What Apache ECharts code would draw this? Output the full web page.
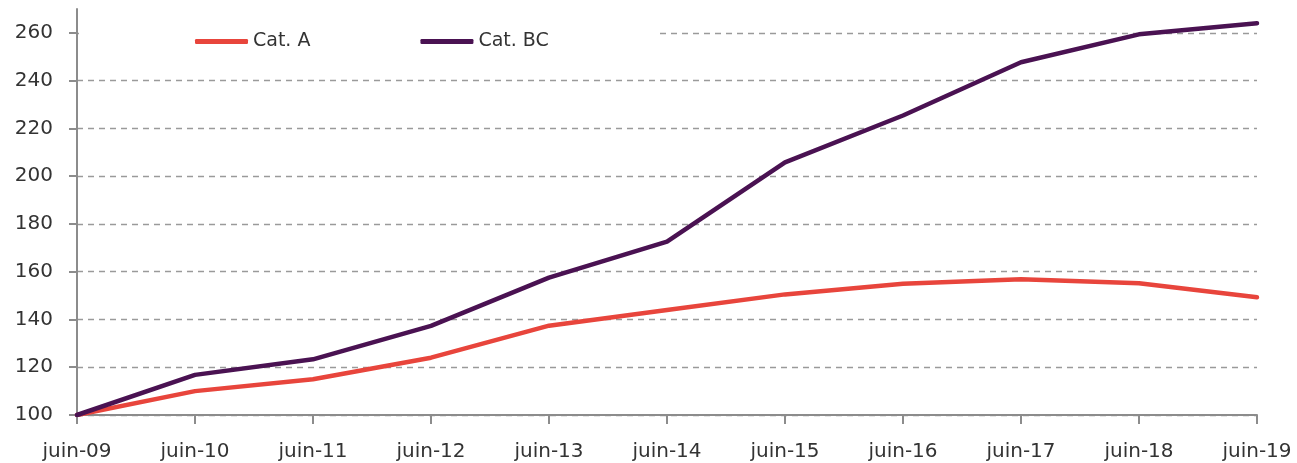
<!DOCTYPE html>
<html>
<head>
<meta charset="utf-8">
<script src="https://cdn.jsdelivr.net/npm/echarts@6/dist/echarts.min.js"></script>
<style>
html,body{margin:0;padding:0;background:#fff;}
#chart{width:1297px;height:463px;}
</style>
</head>
<body>
<div id="chart"></div>
<script>
const categories = ['juin-09','juin-10','juin-11','juin-12','juin-13','juin-14','juin-15','juin-16','juin-17','juin-18','juin-19'];
const seriesNames = ['Cat. A', 'Cat. BC'];
const catA = [100, 110, 115, 124, 137.4, 144, 150.5, 155, 156.8, 155.2, 149.3];
const catBC = [100, 116.8, 123.3, 137.3, 157.5, 172.6, 205.8, 225.4, 247.7, 259.4, 264];
const yTicks = [100, 120, 140, 160, 180, 200, 220, 240, 260];

const FONT = 'DejaVu Sans';
const chart = echarts.init(document.getElementById('chart'), null, {renderer: 'canvas'});
const gridColors = yTicks.map(() => '#9a9a9a').concat(['rgba(0,0,0,0)']);

chart.setOption({
  animation: false,
  backgroundColor: '#fff',
  grid: {left: 77, right: 40, top: 9, bottom: 48, containLabel: false},
  legend: {
    data: seriesNames,
    left: 79,
    top: 20,
    orient: 'horizontal',
    padding: [12, 110, 6, 116],
    backgroundColor: '#fff',
    itemWidth: 53,
    itemHeight: 5,
    itemGap: 110,
    icon: 'roundRect',
    textStyle: {fontFamily: FONT, fontSize: 19, color: '#333', width: 60}
  },
  xAxis: {
    type: 'category',
    data: categories,
    boundaryGap: false,
    axisLine: {lineStyle: {color: '#8c8c8c', width: 2}},
    axisTick: {show: true, length: 9, alignWithLabel: true, lineStyle: {color: '#8c8c8c', width: 2}},
    axisLabel: {fontFamily: FONT, fontSize: 20, color: '#333', margin: 27, interval: 0},
    splitLine: {show: false}
  },
  yAxis: {
    type: 'value',
    min: 100,
    max: 270,
    interval: 20,
    axisLine: {show: true, lineStyle: {color: '#8c8c8c', width: 2}},
    axisTick: {show: true, length: 8, customValues: yTicks, lineStyle: {color: '#8c8c8c', width: 2}},
    axisLabel: {fontFamily: FONT, fontSize: 20, color: '#333', margin: 24, customValues: yTicks},
    splitLine: {show: true, lineStyle: {color: gridColors, type: [6, 5], width: 1.3}}
  },
  series: [
    {
      name: seriesNames[0],
      type: 'line',
      data: catA,
      showSymbol: false,
      symbol: 'none',
      color: '#E8453C',
      lineStyle: {width: 4.5, color: '#E8453C', join: 'round', cap: 'round'},
      z: 2
    },
    {
      name: seriesNames[1],
      type: 'line',
      data: catBC,
      showSymbol: false,
      symbol: 'none',
      color: '#4A1252',
      lineStyle: {width: 4.5, color: '#4A1252', join: 'round', cap: 'round'},
      z: 3
    }
  ]
});
</script>
</body>
</html>
